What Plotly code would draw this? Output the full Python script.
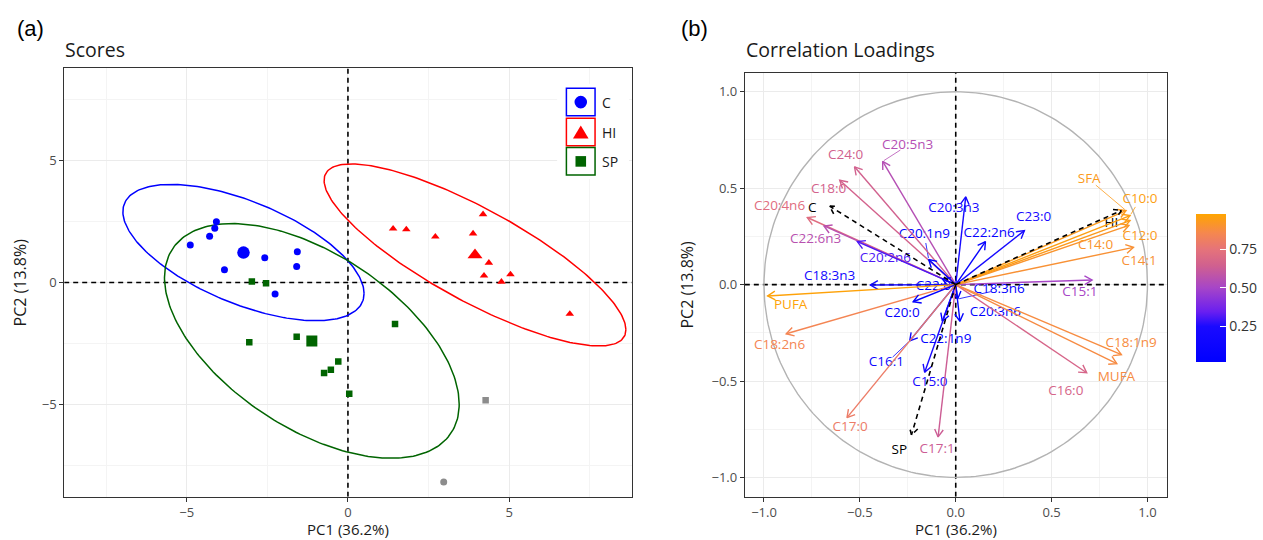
import numpy as np
import plotly.graph_objects as go
from plotly.colors import sample_colorscale

W, H = 1263, 540

# ---------------- Panel (a): PCA scores ----------------
c_x = [-4.08, -4.13, -4.29, -4.89, -2.58, -1.57, -1.59, -3.83, -2.26]
c_y = [2.50, 2.23, 1.90, 1.54, 1.02, 1.26, 0.66, 0.52, -0.47]
hi_x = [1.40, 1.81, 2.71, 4.19, 3.88, 4.37, 4.22, 4.76, 5.04, 6.88]
hi_y = [2.21, 2.18, 1.88, 2.80, 2.01, 0.81, 0.28, 0.03, 0.33, -1.29]
sp_x = [-2.98, -2.54, -3.06, -1.59, 1.46, -0.30, -0.53, -0.74, 0.04]
sp_y = [0.04, -0.03, -2.45, -2.23, -1.70, -3.25, -3.58, -3.72, -4.57]
centroid_x = {"C": -3.24, "HI": 3.94, "SP": -1.12}
centroid_y = {"C": 1.23, "HI": 1.13, "SP": -2.40}
gray_sq_x, gray_sq_y = [4.27], [-4.84]
gray_ci_x, gray_ci_y = [2.97], [-8.20]
# ellipse parameters: x half-extent, y half-extent, correlation
ell_sx = {"C": 3.74, "HI": 4.68, "SP": 4.57}
ell_sy = {"C": 2.80, "HI": 3.74, "SP": 4.82}
ell_rho = {"C": -0.60, "HI": -0.82, "SP": -0.54}
groups = ["C", "HI", "SP"]
a_range = [-8.8, 8.8]

# ---------------- Panel (b): correlation loadings ----------------
var_names = ["C20:5n3", "C24:0", "C18:0", "C20:4n6", "C22:6n3", "C20:2n6", "C20:1n9",
             "C20:3n3", "C22:2n6", "C23:0", "C18:3n3", "C22:0", "PUFA", "C18:2n6",
             "C20:0", "C18:3n6", "C20:3n6", "C22:1n9", "C16:1", "C15:0", "C17:0",
             "C17:1", "C16:0", "MUFA", "C18:1n9", "C15:1", "C14:1", "C14:0",
             "C12:0", "C10:0", "SFA"]
var_x = [-0.381, -0.528, -0.605, -0.774, -0.687, -0.513, -0.141,
         0.052, 0.155, 0.358, -0.445, -0.070, -0.981, -0.884,
         -0.222, 0.010, 0.022, -0.070, -0.240, -0.162, -0.567,
         -0.092, 0.683, 0.840, 0.864, 0.711, 0.927, 0.903,
         0.909, 0.909, 0.888]
var_y = [0.639, 0.611, 0.541, 0.348, 0.304, 0.223, 0.130,
         0.455, 0.223, 0.280, -0.002, 0.030, -0.059, -0.255,
         -0.089, -0.075, -0.190, -0.190, -0.292, -0.455, -0.690,
         -0.790, -0.457, -0.410, -0.363, 0.024, 0.193, 0.307,
         0.332, 0.358, 0.384]
var_cos2 = [0.553, 0.652, 0.659, 0.720, 0.564, 0.313, 0.037,
            0.210, 0.074, 0.207, 0.198, 0.024, 0.966, 0.847,
            0.057, 0.026, 0.037, 0.041, 0.143, 0.233, 0.797,
            0.632, 0.675, 0.874, 0.878, 0.506, 0.896, 0.909,
            0.936, 0.954, 0.936]
sup_names = ["C", "HI", "SP"]
sup_x = [-0.658, 0.865, -0.231]
sup_y = [0.407, 0.385, -0.780]
cos2_min, cos2_max = 0.024, 0.98
cbar_ticks = [0.25, 0.50, 0.75]
b_range = [-1.1, 1.1]

# label placement (repelled positions, data units of panel b)
lab_x = [-0.251, -0.574, -0.663, -0.919, -0.731, -0.367, -0.164,
         -0.010, 0.174, 0.406, -0.658, -0.116, -0.861, -0.919,
         -0.280, 0.226, 0.207, -0.052, -0.362, -0.135, -0.551,
         -0.097, 0.574, 0.838, 0.915, 0.648, 0.957, 0.729,
         0.961, 0.961, 0.696]
lab_y = [0.722, 0.668, 0.490, 0.402, 0.232, 0.134, 0.260,
         0.393, 0.263, 0.345, 0.039, -0.009, -0.107, -0.318,
         -0.152, -0.027, -0.143, -0.286, -0.407, -0.509, -0.741,
         -0.854, -0.554, -0.482, -0.307, -0.041, 0.120, 0.202,
         0.250, 0.441, 0.545]
sup_lab_x = [-0.748, 0.812, -0.294]
sup_lab_y = [0.392, 0.316, -0.863]
leader_names = ["C20:5n3", "C20:1n9", "C18:3n6", "C16:1", "C10:0", "SFA"]

# ---------------- layout geometry (pixels) ----------------
A_L, A_R, A_T, A_B = 64.3, 632.7, 68.3, 496.7
B_L, B_R, B_T, B_B = 746.0, 1168.5, 72.5, 496.7
CB_L, CB_R, CB_T, CB_B = 1197.7, 1227.3, 213.3, 361.7

def fx(p):
    return p / W

def fy(p):
    return 1 - p / H

FONT = "Open Sans"
colorscale = [
    [0.00, "rgb(0,0,255)"],
    [0.24, "rgb(26,10,255)"],
    [0.34, "rgb(106,31,240)"],
    [0.50, "rgb(166,69,200)"],
    [0.65, "rgb(208,96,143)"],
    [0.76, "rgb(229,115,122)"],
    [0.87, "rgb(245,135,79)"],
    [1.00, "rgb(255,165,0)"],
]

def col_of(v):
    t = (v - cos2_min) / (cos2_max - cos2_min)
    t = min(max(t, 0.0), 1.0)
    return sample_colorscale(colorscale, [t])[0]

fig = go.Figure()
dash_line = dict(color="black", width=1.6, dash="5px,4px")

def nolegend(**kw):
    return go.Scatter(hoverinfo="skip", showlegend=False, **kw)

# ---- panel a traces ----
blue, red, green = "#0000FF", "#FF0000", "#006400"
gcol = {"C": blue, "HI": red, "SP": green}
fig.add_trace(nolegend(x=[0, 0], y=a_range, mode="lines", line=dash_line, xaxis="x", yaxis="y"))
fig.add_trace(nolegend(x=a_range, y=[0, 0], mode="lines", line=dash_line, xaxis="x", yaxis="y"))
tt = np.linspace(0, 2 * np.pi, 241)
for g in groups:
    d = np.arccos(ell_rho[g])
    ex = centroid_x[g] + ell_sx[g] * np.cos(tt)
    ey = centroid_y[g] + ell_sy[g] * np.cos(tt - d)
    fig.add_trace(nolegend(x=ex, y=ey, mode="lines", line=dict(color=gcol[g], width=1.5),
                           xaxis="x", yaxis="y"))

fig.add_trace(nolegend(x=gray_sq_x, y=gray_sq_y, mode="markers",
                       marker=dict(symbol="square", size=6.5, color="#8C8C8C"), xaxis="x", yaxis="y"))
fig.add_trace(nolegend(x=gray_ci_x, y=gray_ci_y, mode="markers",
                       marker=dict(symbol="circle", size=7, color="#8C8C8C"), xaxis="x", yaxis="y"))
fig.add_trace(nolegend(x=c_x, y=c_y, mode="markers",
                       marker=dict(symbol="circle", size=7, color=blue), xaxis="x", yaxis="y"))
fig.add_trace(nolegend(x=sp_x, y=sp_y, mode="markers",
                       marker=dict(symbol="square", size=6.5, color=green), xaxis="x", yaxis="y"))
fig.add_trace(nolegend(x=hi_x, y=hi_y, mode="markers",
                       marker=dict(symbol="triangle-up", size=7.5, color=red), xaxis="x", yaxis="y"))
sym = {"C": ("circle", 12.5), "HI": ("triangle-up", 13), "SP": ("square", 11)}
for g in groups:
    fig.add_trace(nolegend(x=[centroid_x[g]], y=[centroid_y[g]], mode="markers",
                           marker=dict(symbol=sym[g][0], size=sym[g][1], color=gcol[g]),
                           xaxis="x", yaxis="y"))

# ---- panel b traces ----
fig.add_trace(nolegend(x=[0, 0], y=b_range, mode="lines", line=dash_line, xaxis="x2", yaxis="y2"))
fig.add_trace(nolegend(x=b_range, y=[0, 0], mode="lines", line=dash_line, xaxis="x2", yaxis="y2"))
fig.add_trace(nolegend(x=np.cos(tt), y=np.sin(tt), mode="lines",
                       line=dict(color="#B3B3B3", width=1.4), xaxis="x2", yaxis="y2"))

vcols = [col_of(v) for v in var_cos2]
# labels first (arrows are drawn over them)
for i, n in enumerate(var_names):
    fig.add_trace(nolegend(x=[lab_x[i]], y=[lab_y[i]], mode="text", text=[n],
                           textfont=dict(family=FONT, size=13.5, color=vcols[i]),
                           xaxis="x2", yaxis="y2"))
for i, n in enumerate(sup_names):
    fig.add_trace(nolegend(x=[sup_lab_x[i]], y=[sup_lab_y[i]], mode="text", text=[n],
                           textfont=dict(family=FONT, size=13.5, color="black"),
                           xaxis="x2", yaxis="y2"))

# leader segments
for i, n in enumerate(var_names):
    if n in leader_names:
        lx, ly, tx, ty = lab_x[i], lab_y[i], var_x[i], var_y[i]
        dx, dy = tx - lx, ty - ly
        dist = np.hypot(dx, dy)
        ux, uy = dx / dist, dy / dist
        s0 = 0.045
        fig.add_trace(nolegend(x=[lx + ux * s0, tx - ux * 0.008], y=[ly + uy * s0, ty - uy * 0.008],
                               mode="lines", line=dict(color=vcols[i], width=0.8),
                               xaxis="x2", yaxis="y2"))

def arrow_xy(x1, y1, L=0.045, ang=np.radians(30)):
    th = np.arctan2(y1, x1)
    hx1 = x1 - L * np.cos(th - ang)
    hy1 = y1 - L * np.sin(th - ang)
    hx2 = x1 - L * np.cos(th + ang)
    hy2 = y1 - L * np.sin(th + ang)
    return [0, x1, None, hx1, x1, hx2], [0, y1, None, hy1, y1, hy2]

for i, n in enumerate(var_names):
    ax_, ay_ = arrow_xy(var_x[i], var_y[i])
    fig.add_trace(nolegend(x=ax_, y=ay_, mode="lines", line=dict(color=vcols[i], width=1.4),
                           xaxis="x2", yaxis="y2"))
for i, n in enumerate(sup_names):
    ax_, ay_ = arrow_xy(sup_x[i], sup_y[i])
    fig.add_trace(nolegend(x=ax_, y=ay_, mode="lines", line=dash_line, xaxis="x2", yaxis="y2"))

# colorbar carrier
fig.add_trace(nolegend(x=[0, 0], y=[0, 0], mode="markers", xaxis="x2", yaxis="y2",
                       marker=dict(size=0.1, opacity=0, color=[cos2_min, cos2_max],
                                   colorscale=colorscale, cmin=cos2_min, cmax=cos2_max,
                                   showscale=True,
                                   colorbar=dict(x=fx(CB_L), xanchor="left", xpad=0, ypad=0,
                                                 y=fy((CB_T + CB_B) / 2), yanchor="middle",
                                                 thickness=CB_R - CB_L, thicknessmode="pixels",
                                                 len=CB_B - CB_T, lenmode="pixels",
                                                 outlinewidth=0, tickvals=cbar_ticks,
                                                 ticktext=["0.25", "0.50", "0.75"],
                                                 ticks="inside", ticklen=6, tickcolor="white",
                                                 tickwidth=1,
                                                 tickfont=dict(family=FONT, size=14, color="#333333")))))

# ---------------- axes ----------------
axis_common = dict(showline=True, mirror=True, linecolor="#333333", linewidth=1,
                   ticks="outside", ticklen=4, tickcolor="#333333", tickwidth=1,
                   showgrid=True, gridcolor="#EBEBEB", gridwidth=1.1, zeroline=False,
                   tickfont=dict(family=FONT, size=13, color="#4D4D4D"),
                   fixedrange=True)
minor_a = dict(tickvals=[-7.5, -2.5, 2.5, 7.5], showgrid=True, gridcolor="#F4F4F4",
               gridwidth=0.7, ticks="")
minor_b = dict(tickvals=[-0.75, -0.25, 0.25, 0.75], showgrid=True, gridcolor="#F4F4F4",
               gridwidth=0.7, ticks="")
ticks_b = [-1, -0.5, 0, 0.5, 1]
ticktext_b = ["\u22121.0", "\u22120.5", "0.0", "0.5", "1.0"]
fig.update_layout(
    width=W, height=H, margin=dict(l=0, r=0, t=0, b=0),
    paper_bgcolor="white", plot_bgcolor="white", showlegend=False,
    xaxis=dict(domain=[fx(A_L), fx(A_R)], range=a_range, anchor="y",
               tickvals=[-5, 0, 5], ticktext=["\u22125", "0", "5"], minor=minor_a, **axis_common),
    yaxis=dict(domain=[fy(A_B), fy(A_T)], range=a_range, anchor="x",
               tickvals=[-5, 0, 5], ticktext=["\u22125", "0", "5"], minor=minor_a, **axis_common),
    xaxis2=dict(domain=[fx(B_L), fx(B_R)], range=b_range, anchor="y2",
                tickvals=ticks_b, ticktext=ticktext_b, minor=minor_b, **axis_common),
    yaxis2=dict(domain=[fy(B_B), fy(B_T)], range=b_range, anchor="x2",
                tickvals=ticks_b, ticktext=ticktext_b, minor=minor_b, **axis_common),
)

shapes = []
# left-side white ticks on colorbar (ggplot style)
for v in cbar_ticks:
    yp = CB_T + (cos2_max - v) / (cos2_max - cos2_min) * (CB_B - CB_T)
    shapes.append(dict(type="line", xref="paper", yref="paper", x0=fx(CB_L), x1=fx(CB_L + 6),
                       y0=fy(yp), y1=fy(yp), line=dict(color="white", width=1)))

# manual legend for panel a
shapes.append(dict(type="rect", xref="paper", yref="paper", x0=fx(558), x1=fx(630), y0=fy(84),
                   y1=fy(179), fillcolor="white", line=dict(width=0)))
key_top = {"C": 88.3, "HI": 118.3, "SP": 147.6}
for g in groups:
    t0 = key_top[g]
    shapes.append(dict(type="rect", xref="paper", yref="paper", x0=fx(567.3), x1=fx(596),
                       y0=fy(t0 + 27.5), y1=fy(t0), fillcolor="white",
                       line=dict(color=gcol[g], width=1.5)))
cxk = 581.7
cy_c = key_top["C"] + 13.8
shapes.append(dict(type="circle", xref="paper", yref="paper", x0=fx(cxk - 6.3), x1=fx(cxk + 6.3),
                   y0=fy(cy_c + 6.3), y1=fy(cy_c - 6.3), fillcolor=blue, line=dict(width=0)))
cy_h = key_top["HI"] + 14.3
tri = "M {:.5f},{:.5f} L {:.5f},{:.5f} L {:.5f},{:.5f} Z".format(
    fx(cxk), fy(cy_h - 7.0), fx(cxk - 7.8), fy(cy_h + 5.8), fx(cxk + 7.8), fy(cy_h + 5.8))
shapes.append(dict(type="path", xref="paper", yref="paper", path=tri, fillcolor=red,
                   line=dict(width=0)))
cy_s = key_top["SP"] + 13.8
shapes.append(dict(type="rect", xref="paper", yref="paper", x0=fx(cxk - 5.3), x1=fx(cxk + 5.3),
                   y0=fy(cy_s + 5.3), y1=fy(cy_s - 5.3), fillcolor=green, line=dict(width=0)))
fig.update_layout(shapes=shapes)

ann = []
def txt(s, xp, yp, size, color="#1A1A1A", xanchor="left", angle=0, family=FONT):
    ann.append(dict(text=s, x=fx(xp), y=fy(yp), xref="paper", yref="paper", showarrow=False,
                    xanchor=xanchor, yanchor="middle", textangle=angle,
                    font=dict(family=family, size=size, color=color)))

for g in groups:
    txt(g, 600.5, key_top[g] + 14.0, 14)
txt("(a)", 15, 29, 22, color="black", family="Liberation Sans")
txt("(b)", 680, 29, 22, color="black", family="Liberation Sans")
txt("Scores", 63.5, 50, 19.5)
txt("Correlation Loadings", 745, 50, 19.5)
txt("PC1 (36.2%)", (A_L + A_R) / 2, 528.5, 15, xanchor="center")
txt("PC1 (36.2%)", (B_L + B_R) / 2, 528.5, 15, xanchor="center")
txt("PC2 (13.8%)", 20, (A_T + A_B) / 2, 16, xanchor="center", angle=-90)
txt("PC2 (13.8%)", 688, (B_T + B_B) / 2, 16, xanchor="center", angle=-90)
fig.update_layout(annotations=ann)

fig.write_html("out.html")
